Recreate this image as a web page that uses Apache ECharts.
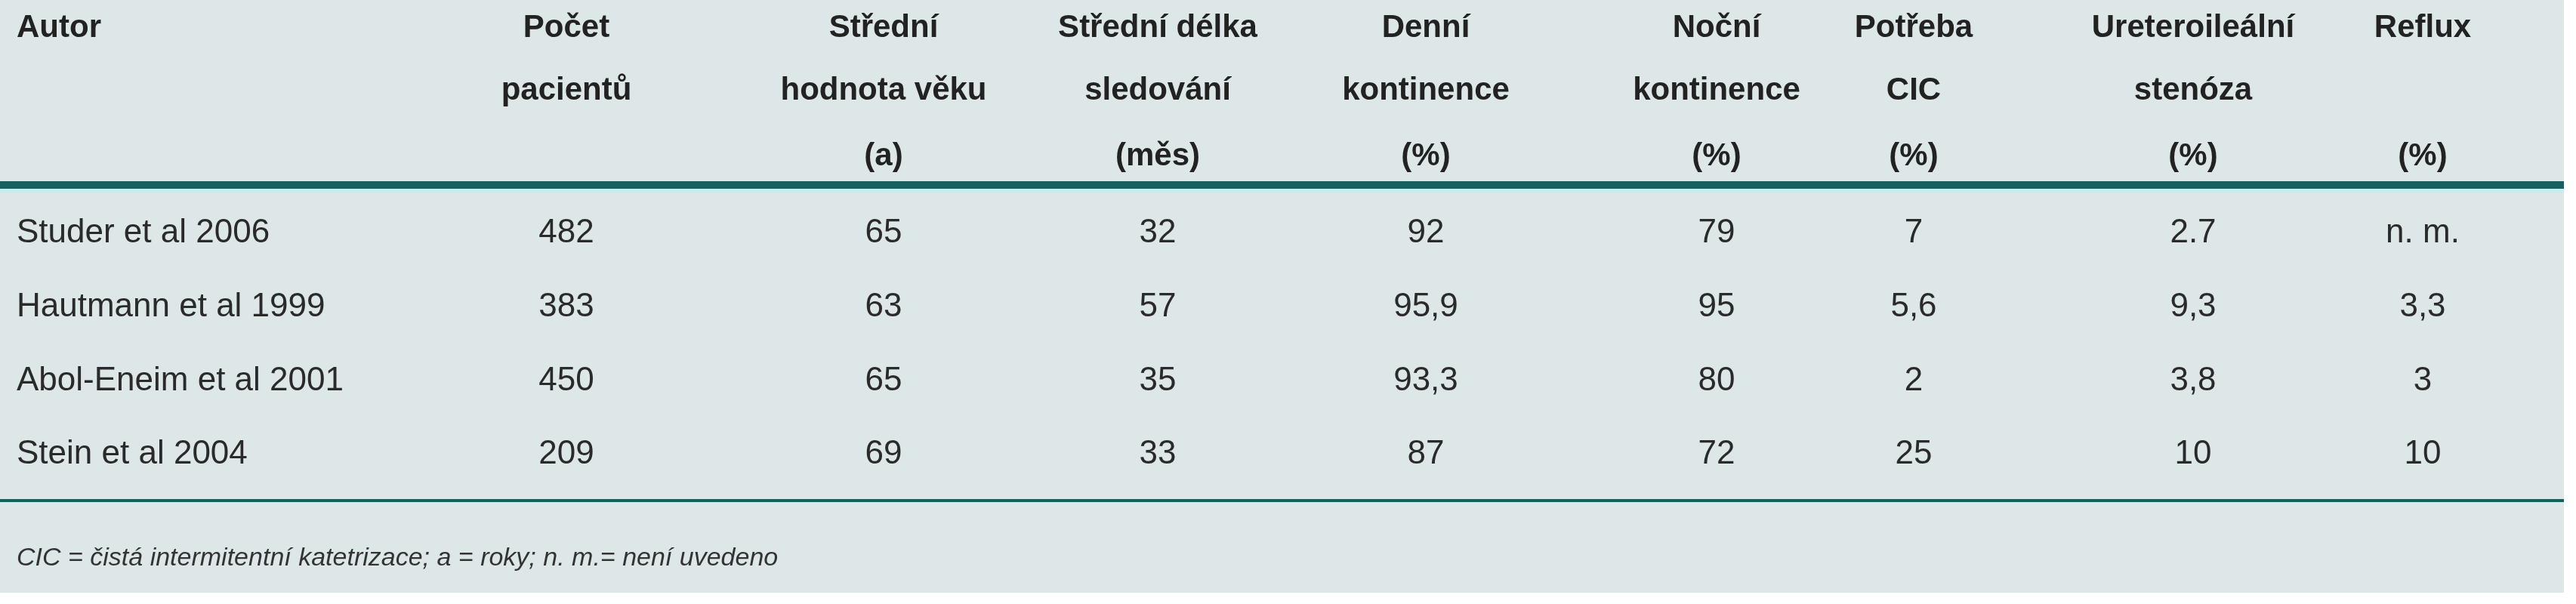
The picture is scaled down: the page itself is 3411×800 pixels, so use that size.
<!DOCTYPE html>
<html><head><meta charset="utf-8">
<script src="https://cdn.jsdelivr.net/npm/echarts@6/dist/echarts.min.js"></script>
<style>html,body{margin:0;background:#fff}#c{width:3411px;height:800px}</style>
</head><body><div id="c"></div>
<script>
const headers = [
  ["Autor"],
  ["Počet","pacientů"],
  ["Střední","hodnota věku","(a)"],
  ["Střední délka","sledování","(měs)"],
  ["Denní","kontinence","(%)"],
  ["Noční","kontinence","(%)"],
  ["Potřeba","CIC","(%)"],
  ["Ureteroileální","stenóza","(%)"],
  ["Reflux","","(%)"]
];
const authors = ["Studer et al 2006","Hautmann et al 1999","Abol-Eneim et al 2001","Stein et al 2004"];
const patients = ["482","383","450","209"];
const age = ["65","63","65","69"];
const followup = ["32","57","35","33"];
const dayCont = ["92","95,9","93,3","87"];
const nightCont = ["79","95","80","72"];
const cic = ["7","5,6","2","25"];
const stenosis = ["2.7","9,3","3,8","10"];
const reflux = ["n. m.","3,3","3","10"];
const footnote = "CIC = čistá intermitentní katetrizace; a = roky; n. m.= není uvedeno";

const colX = [22,750,1170,1533,1888,2273,2534,2904,3208];
const headY = [37,120,207];
const rowY = [309,407,505,602];
const font = '"Liberation Sans Narrow","Liberation Sans",sans-serif';
const cols = [authors,patients,age,followup,dayCont,nightCont,cic,stenosis,reflux];
const els = [];
els.push({type:'rect',shape:{x:0,y:0,width:3395,height:785},style:{fill:'#dde7e8'}});
els.push({type:'rect',shape:{x:0,y:240,width:3395,height:10},style:{fill:'#17605f'}});
els.push({type:'rect',shape:{x:0,y:250,width:3395,height:5},style:{fill:'#c5eef3'}});
els.push({type:'rect',shape:{x:0,y:661,width:3395,height:4},style:{fill:'#17605f'}});
headers.forEach((h,i)=>h.forEach((t,j)=>{
  if(!t) return;
  els.push({type:'text',x:colX[i],y:headY[j],style:{text:t,font:'bold 42px '+font,fill:'#222',
    align:i===0?'left':'center',verticalAlign:'middle'}});
}));
cols.forEach((c,i)=>c.forEach((t,r)=>{
  els.push({type:'text',x:colX[i],y:rowY[r],style:{text:t,font:'44px '+font,fill:'#2a2a2a',
    align:i===0?'left':'center',verticalAlign:'middle'}});
}));
els.push({type:'text',x:22,y:740,style:{text:footnote,font:'italic 34px '+font,fill:'#333',verticalAlign:'middle'}});
const chart = echarts.init(document.getElementById('c'));
chart.setOption({animation:false,graphic:{elements:els}});
</script></body></html>
